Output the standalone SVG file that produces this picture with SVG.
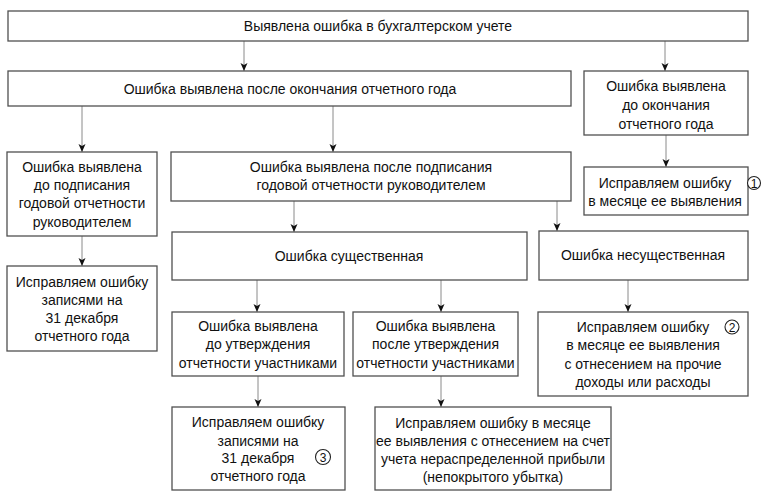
<svg xmlns="http://www.w3.org/2000/svg" width="770" height="501" viewBox="0 0 770 501">
<defs>
<marker id="ah" markerUnits="userSpaceOnUse" markerWidth="9" markerHeight="8" refX="8" refY="3.5" orient="auto">
<path d="M0,0 L8,3.5 L0,7 L2,3.5 z" fill="#111"/>
</marker>
</defs>
<style>
.box{fill:#fff;stroke:#505050;stroke-width:1.3}
.t{font-family:"Liberation Sans","DejaVu Sans",sans-serif;font-size:14px;fill:#111;text-anchor:middle}
.c{fill:#fff;stroke:#222;stroke-width:1.1}
.cn{font-family:"Liberation Sans","DejaVu Sans",sans-serif;font-size:12px;fill:#111;text-anchor:middle}
.ln{stroke:#8a8a8a;stroke-width:1;fill:none;marker-end:url(#ah)}
</style>
<rect width="770" height="501" fill="#fff"/>
<g id="connectors">
<line class="ln" x1="244" y1="41" x2="244" y2="71"/>
<line class="ln" x1="665" y1="41" x2="665" y2="71"/>
<line class="ln" x1="82" y1="106" x2="82" y2="152"/>
<line class="ln" x1="333" y1="106" x2="333" y2="152"/>
<line class="ln" x1="666" y1="135" x2="666" y2="167"/>
<line class="ln" x1="82" y1="236" x2="82" y2="266"/>
<line class="ln" x1="294" y1="201" x2="294" y2="232"/>
<line class="ln" x1="557" y1="201" x2="557" y2="231"/>
<line class="ln" x1="257" y1="280" x2="257" y2="312"/>
<line class="ln" x1="441" y1="280" x2="441" y2="312"/>
<line class="ln" x1="628" y1="280" x2="628" y2="312"/>
<line class="ln" x1="258" y1="376" x2="258" y2="407"/>
<line class="ln" x1="441" y1="376" x2="441" y2="407"/>
</g>
<g id="nA">
<rect class="box" x="8" y="11" width="740" height="30"/>
<text class="t" x="378" y="31">Выявлена ошибка в бухгалтерском учете</text>
</g>
<g id="nB">
<rect class="box" x="8" y="71" width="563" height="35"/>
<text class="t" x="290" y="94">Ошибка выявлена после окончания отчетного года</text>
</g>
<g id="nC">
<rect class="box" x="584" y="71" width="164" height="64"/>
<text class="t" x="666" y="91">Ошибка выявлена</text>
<text class="t" x="666" y="110">до окончания</text>
<text class="t" x="666" y="129">отчетного года</text>
</g>
<g id="nD">
<rect class="box" x="7" y="152" width="150" height="84"/>
<text class="t" x="82" y="172">Ошибка выявлена</text>
<text class="t" x="82" y="190">до подписания</text>
<text class="t" x="82" y="208">годовой отчетности</text>
<text class="t" x="82" y="227">руководителем</text>
</g>
<g id="nE">
<rect class="box" x="171" y="152" width="400" height="49"/>
<text class="t" x="371" y="172">Ошибка выявлена после подписания</text>
<text class="t" x="371" y="190">годовой отчетности руководителем</text>
</g>
<g id="nF">
<rect class="box" x="584" y="167" width="164" height="48"/>
<text class="t" x="665" y="188">Исправляем ошибку</text>
<text class="t" x="665" y="206">в месяце ее выявления</text>
<circle class="c" cx="754" cy="183" r="6.5"/>
<text class="cn" x="754" y="187.5">1</text>
</g>
<g id="nG">
<rect class="box" x="7" y="266" width="150" height="85"/>
<text class="t" x="82" y="287">Исправляем ошибку</text>
<text class="t" x="82" y="305">записями на</text>
<text class="t" x="82" y="323">31 декабря</text>
<text class="t" x="82" y="341">отчетного года</text>
</g>
<g id="nH">
<rect class="box" x="172" y="232" width="355" height="48"/>
<text class="t" x="349" y="261">Ошибка существенная</text>
</g>
<g id="nI">
<rect class="box" x="539" y="231" width="209" height="49"/>
<text class="t" x="643" y="260">Ошибка несущественная</text>
</g>
<g id="nJ">
<rect class="box" x="172" y="312" width="172" height="64"/>
<text class="t" x="258" y="331">Ошибка выявлена</text>
<text class="t" x="258" y="349">до утверждения</text>
<text class="t" x="258" y="368">отчетности участниками</text>
</g>
<g id="nK">
<rect class="box" x="353" y="312" width="165" height="64"/>
<text class="t" x="435.5" y="331">Ошибка выявлена</text>
<text class="t" x="435.5" y="349">после утверждения</text>
<text class="t" x="435.5" y="368">отчетности участниками</text>
</g>
<g id="nL">
<rect class="box" x="538" y="312" width="210" height="84"/>
<text class="t" x="643" y="332">Исправляем ошибку</text>
<text class="t" x="643" y="350">в месяце ее выявления</text>
<text class="t" x="643" y="369">с отнесением на прочие</text>
<text class="t" x="643" y="387">доходы или расходы</text>
<circle class="c" cx="732" cy="327" r="7"/>
<text class="cn" x="732" y="331.5">2</text>
</g>
<g id="nM">
<rect class="box" x="172" y="407" width="173" height="83"/>
<text class="t" x="258" y="427">Исправляем ошибку</text>
<text class="t" x="258" y="446">записями на</text>
<text class="t" x="258" y="463">31 декабря</text>
<text class="t" x="258" y="481">отчетного года</text>
<circle class="c" cx="323" cy="457" r="7.5"/>
<text class="cn" x="323" y="461.5">3</text>
</g>
<g id="nN">
<rect class="box" x="375" y="407" width="236" height="83"/>
<text class="t" x="493" y="428">Исправляем ошибку в месяце</text>
<text class="t" x="493" y="446">ее выявления с отнесением на счет</text>
<text class="t" x="493" y="464">учета нераспределенной прибыли</text>
<text class="t" x="493" y="482">(непокрытого убытка)</text>
</g>
</svg>
